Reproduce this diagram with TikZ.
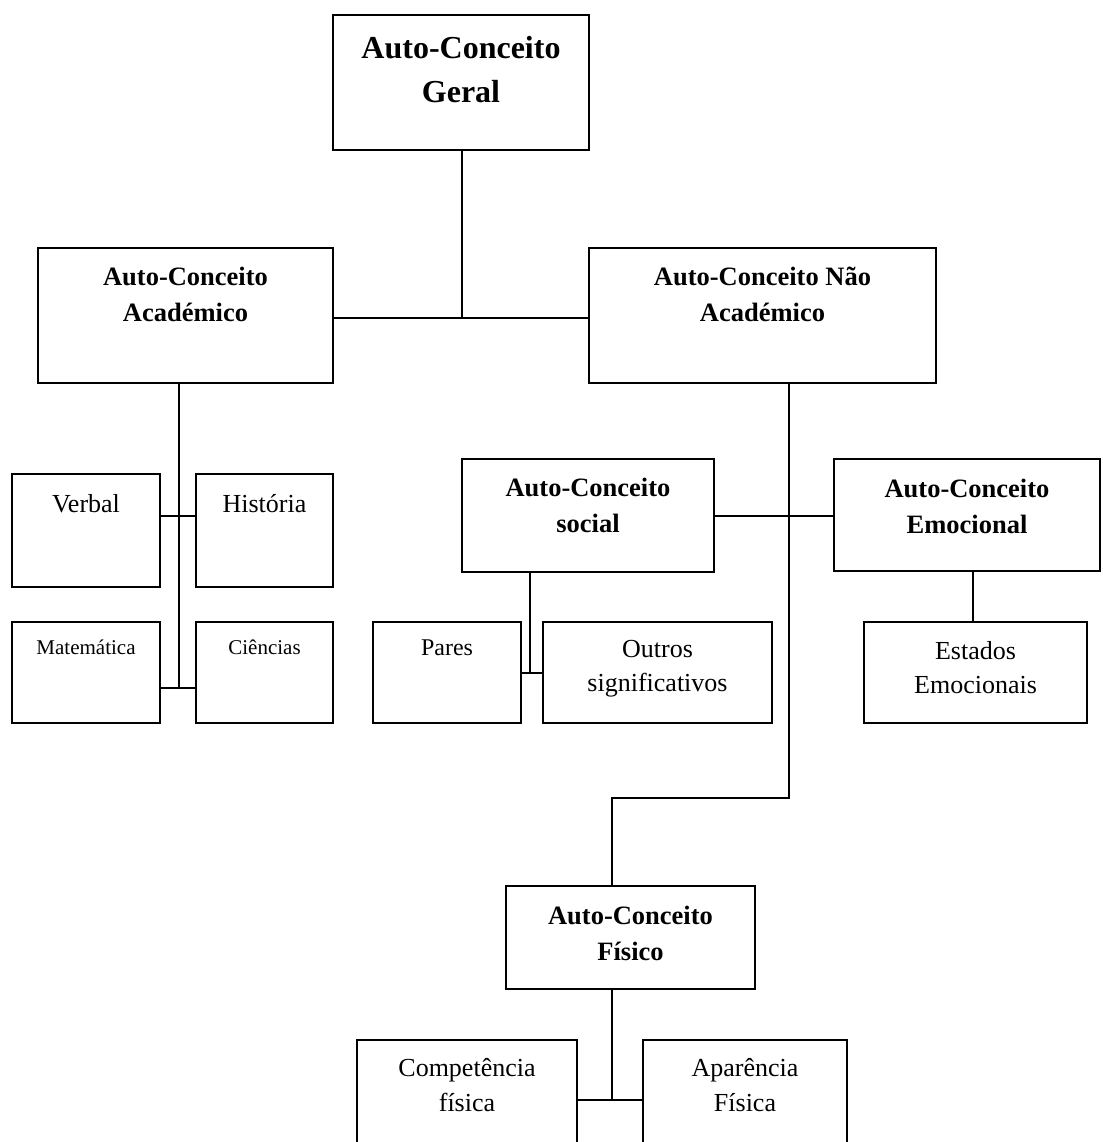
\documentclass[tikz,border=0pt]{standalone}
\usepackage{fontspec}
\setmainfont{Liberation Serif}
\begin{document}
\begin{tikzpicture}[x=1pt,y=-1pt,
  box/.style={draw, line width=1.3pt, inner sep=0pt},
  conn/.style={line width=1.3pt},
  lbl/.style={anchor=north, align=center, inner sep=0pt},
  bigb/.style={lbl, font=\fontsize{32}{44}\selectfont\bfseries},
  midb/.style={lbl, font=\fontsize{26.5}{36}\selectfont\bfseries},
  reg/.style={lbl, font=\fontsize{26}{34.5}\selectfont},
  regp/.style={lbl, font=\fontsize{24}{32}\selectfont},
  small/.style={lbl, font=\fontsize{21}{28}\selectfont}]
\useasboundingbox (0,0) rectangle (1102,1142);
\clip (0,0) rectangle (1102,1142);
% boxes
\node[box, minimum width=256, minimum height=135] (geral) at (461,82.5) {};
\node[box, minimum width=295, minimum height=135] (acad) at (185.5,315.5) {};
\node[box, minimum width=347, minimum height=135] (nonacad) at (762.5,315.5) {};
\node[box, minimum width=148, minimum height=113] (verbal) at (86,530.5) {};
\node[box, minimum width=137, minimum height=113] (historia) at (264.5,530.5) {};
\node[box, minimum width=148, minimum height=101] (matematica) at (86,672.5) {};
\node[box, minimum width=137, minimum height=101] (ciencias) at (264.5,672.5) {};
\node[box, minimum width=252, minimum height=113] (social) at (588,515.5) {};
\node[box, minimum width=266, minimum height=112] (emocional) at (967,515) {};
\node[box, minimum width=148, minimum height=101] (pares) at (447,672.5) {};
\node[box, minimum width=229, minimum height=101] (outros) at (657.5,672.5) {};
\node[box, minimum width=223, minimum height=101] (estados) at (975.5,672.5) {};
\node[box, minimum width=249, minimum height=103] (fisico) at (630.5,937.5) {};
\node[box, minimum width=220, minimum height=120] (competencia) at (467,1100) {};
\node[box, minimum width=204, minimum height=120] (aparencia) at (745,1100) {};
% texts
\node[bigb] (geralT) at ([yshift=-22pt]geral.north) {Auto-Conceito\\Geral};
\node[midb] (acadT) at ([yshift=-19.5pt]acad.north) {Auto-Conceito\\Académico};
\node[midb] (nonacadT) at ([yshift=-19.5pt]nonacad.north) {Auto-Conceito Não\\Académico};
\node[reg] (verbalT) at ([yshift=-21pt]verbal.north) {Verbal};
\node[reg] (historiaT) at ([yshift=-21pt]historia.north) {História};
\node[small] (matematicaT) at ([yshift=-18pt]matematica.north) {Matemática};
\node[small] (cienciasT) at ([yshift=-18pt]ciencias.north) {Ciências};
\node[midb] (socialT) at ([yshift=-20pt]social.north) {Auto-Conceito\\social};
\node[midb] (emocionalT) at ([yshift=-20.5pt]emocional.north) {Auto-Conceito\\Emocional};
\node[regp] (paresT) at ([yshift=-18pt]pares.north) {Pares};
\node[reg] (outrosT) at ([yshift=-18.5pt]outros.north) {Outros\\significativos};
\node[reg] (estadosT) at ([yshift=-19.5pt]estados.north) {Estados\\Emocionais};
\node[midb] (fisicoT) at ([yshift=-21pt]fisico.north) {Auto-Conceito\\Físico};
\node[reg] (competenciaT) at ([yshift=-19pt]competencia.north) {Competência\\física};
\node[reg] (aparenciaT) at ([yshift=-19pt]aparencia.north) {Aparência\\Física};
% junction points
\coordinate (j1) at (462,318);
\coordinate (j2) at (179,688);
\coordinate (j3) at (179,516);
\coordinate (j4) at (789,798);
\coordinate (j5) at (612,798);
\coordinate (j6) at (789,516);
\coordinate (j7) at (530,673);
\coordinate (j8) at (973,600);
\coordinate (j9) at (612,1100);
% connectors
\draw[conn] (j1 |- geral.south) -- (j1);
\draw[conn] (acad.east |- j1) -- (nonacad.west |- j1);
\draw[conn] (j2 |- acad.south) -- (j2);
\draw[conn] (verbal.east |- j3) -- (historia.west |- j3);
\draw[conn] (matematica.east |- j2) -- (ciencias.west |- j2);
\draw[conn] (j4 |- nonacad.south) -- (j4) -- (j5) -- (j5 |- fisico.north);
\draw[conn] (social.east |- j6) -- (emocional.west |- j6);
\draw[conn] (j7 |- social.south) -- (j7);
\draw[conn] (pares.east |- j7) -- (outros.west |- j7);
\draw[conn] (j8 |- emocional.south) -- (j8 |- estados.north);
\draw[conn] (j9 |- fisico.south) -- (j9);
\draw[conn] (competencia.east |- j9) -- (aparencia.west |- j9);
\end{tikzpicture}
\end{document}
